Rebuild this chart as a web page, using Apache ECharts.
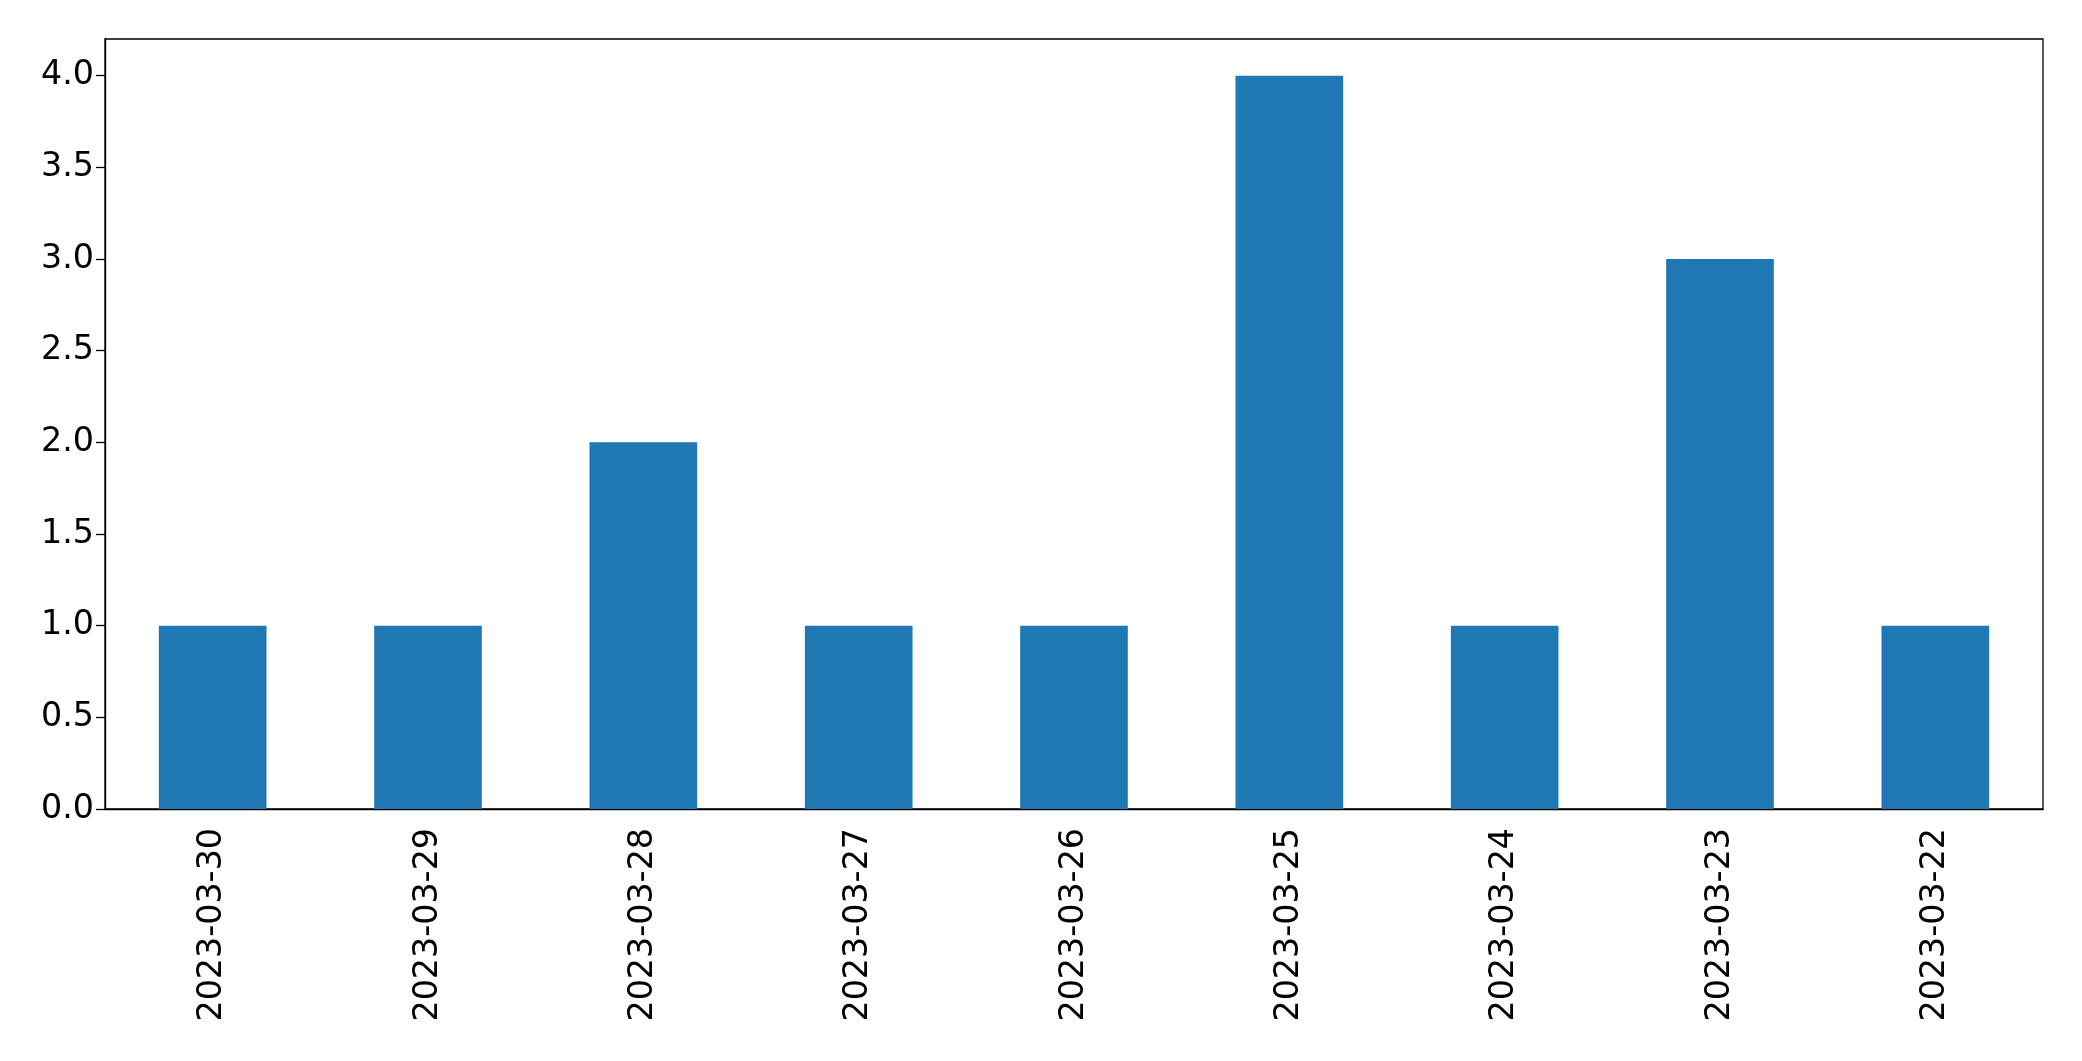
<!DOCTYPE html>
<html>
<head>
<meta charset="utf-8">
<script src="https://cdn.jsdelivr.net/npm/echarts@6/dist/echarts.min.js"></script>
<style>
html,body{margin:0;padding:0;background:#fff;}
#chart{width:2082px;height:1061px;}
</style>
</head>
<body>
<div id="chart"></div>
<script>
const categories = ['2023-03-30','2023-03-29','2023-03-28','2023-03-27','2023-03-26','2023-03-25','2023-03-24','2023-03-23','2023-03-22'];
const counts = [1, 1, 2, 1, 1, 4, 1, 3, 1];
const yTicks = [0, 0.5, 1.0, 1.5, 2.0, 2.5, 3.0, 3.5, 4.0];

const chart = echarts.init(document.getElementById('chart'));
const font = '"DejaVu Sans", sans-serif';
chart.setOption({
  animation: false,
  grid: {left: 105, right: 39, top: 39, bottom: 252, show: true, borderColor: '#000', borderWidth: 1.3, backgroundColor: 'transparent'},
  xAxis: {
    type: 'category',
    data: categories,
    axisLine: {lineStyle: {color: '#000', width: 1.3}},
    axisTick: {alignWithLabel: true, length: 9, lineStyle: {color: '#000', width: 1.3}},
    axisLabel: {rotate: 90, margin: 19, color: '#000', fontFamily: font, fontSize: 33.3, interval: 0},
    splitLine: {show: false}
  },
  yAxis: {
    type: 'value',
    min: 0,
    max: 4.2,
    interval: 0.5,
    axisLine: {show: true, lineStyle: {color: '#000', width: 1.3}},
    axisTick: {show: true, length: 9, lineStyle: {color: '#000', width: 1.3}, customValues: yTicks},
    axisLabel: {margin: 11, padding: [10, 0, 0, 0], color: '#000', fontFamily: font, fontSize: 33.3, customValues: yTicks, formatter: v => v.toFixed(1)},
    splitLine: {show: false}
  },
  series: [{
    type: 'bar',
    data: counts,
    barWidth: '50%',
    itemStyle: {color: '#1f77b4'}
  }]
});
</script>
</body>
</html>
